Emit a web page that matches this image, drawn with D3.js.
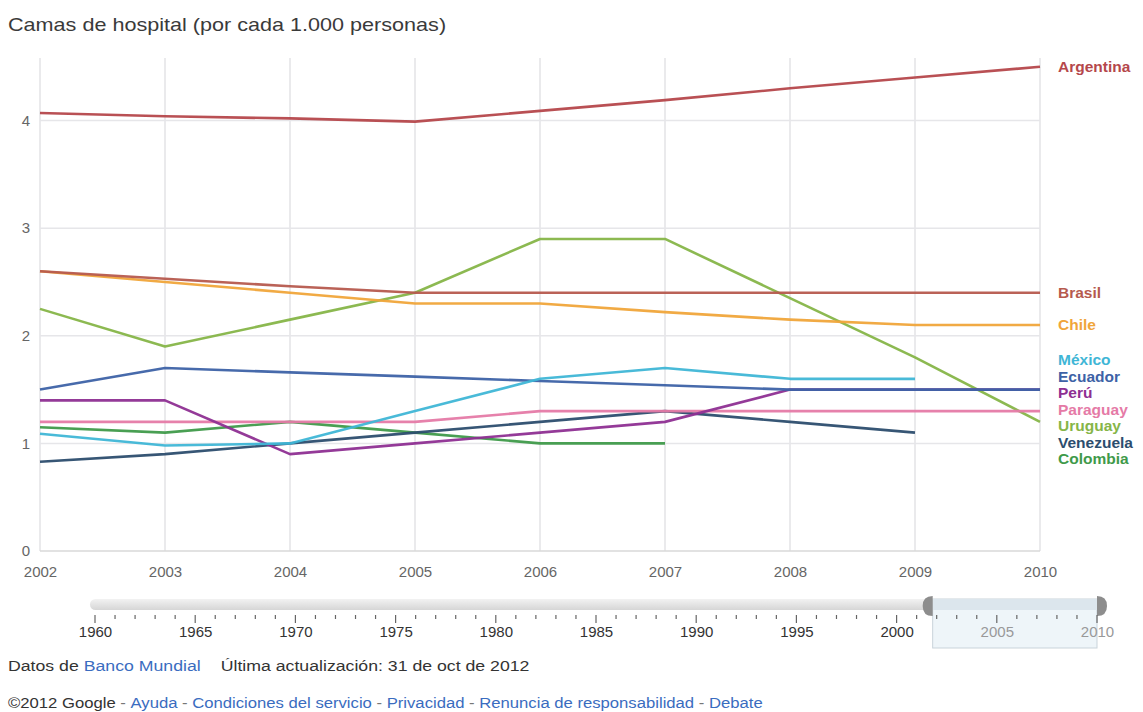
<!DOCTYPE html>
<html><head><meta charset="utf-8">
<script src="https://cdn.jsdelivr.net/npm/d3@7"></script>
<style>
body{margin:0;background:#fff;font-family:Arial,"Liberation Sans",sans-serif;}
svg{display:block}
</style></head><body>
<svg id="c" width="1143" height="712"></svg>
<script>
const years = [2002,2003,2004,2005,2006,2007,2008,2009,2010];
const countries = ["Argentina","Brasil","Chile","México","Ecuador","Perú","Paraguay","Uruguay","Venezuela","Colombia"];
const colors = ["#b5474b","#b65a4e","#f0a53a","#3fb6d6","#3d62a6","#8e2f92","#e57aa6","#86b548","#2c4d6e","#3f9a4a"];
const argentina = [4.07,4.04,4.02,3.99,4.09,4.19,4.3,4.4,4.5];
const brasil    = [2.6,2.53,2.46,2.4,2.4,2.4,2.4,2.4,2.4];
const chile     = [2.6,2.5,2.4,2.3,2.3,2.22,2.15,2.1,2.1];
const mexico    = [1.09,0.98,1.0,1.3,1.6,1.7,1.6,1.6,null];
const ecuador   = [1.5,1.7,1.66,1.62,1.58,1.54,1.5,1.5,1.5];
const peru      = [1.4,1.4,0.9,1.0,1.1,1.2,1.5,1.5,1.5];
const paraguay  = [1.2,1.2,1.2,1.2,1.3,1.3,1.3,1.3,1.3];
const uruguay   = [2.25,1.9,2.15,2.4,2.9,2.9,2.35,1.8,1.2];
const venezuela = [0.83,0.9,1.0,1.1,1.2,1.3,1.2,1.1,null];
const colombia  = [1.15,1.1,1.2,1.1,1.0,1.0,null,null,null];
const seriesValues = [argentina,brasil,chile,mexico,ecuador,peru,paraguay,uruguay,venezuela,colombia];
const yTicks = [0,1,2,3,4];
const timelineTicks = [1960,1965,1970,1975,1980,1985,1990,1995,2000,2005,2010];
const title = "Camas de hospital (por cada 1.000 personas)";
const FF = "Arial,'Liberation Sans',sans-serif";

const svg = d3.select("#c");
const x = d3.scaleLinear().domain([2002,2010]).range([40,1040]);
const y = d3.scaleLinear().domain([0,4.6]).range([551,56]);

svg.append("text").attr("transform","translate(8,31) scale(1.2,1)").attr("font-size",18).attr("fill","#3a3a3a").text(title);

// grid
const g = svg.append("g");
g.selectAll(".vg").data(years).join("line")
  .attr("x1",d=>x(d)).attr("x2",d=>x(d)).attr("y1",58).attr("y2",551)
  .attr("stroke","#e3e3e6").attr("stroke-width",1.5);
g.selectAll(".hg").data(yTicks).join("line")
  .attr("x1",40).attr("x2",1040).attr("y1",d=>y(d)).attr("y2",d=>y(d))
  .attr("stroke",d=>d===0?"#d8d8d8":"#e6e6e9").attr("stroke-width",1.5);

// axes
const xAxis = d3.axisBottom(x).tickValues(years).tickFormat(d3.format("d")).tickSize(0).tickPadding(13);
const xa = svg.append("g").attr("transform","translate(0,553)").call(xAxis);
xa.select(".domain").remove();
xa.selectAll("text").attr("font-size",15).attr("fill","#666").attr("font-family",FF);
const yAxis = d3.axisLeft(y).tickValues(yTicks).tickFormat(d3.format("d")).tickSize(0).tickPadding(9);
const ya = svg.append("g").attr("transform","translate(39,0)").call(yAxis);
ya.select(".domain").remove();
ya.selectAll("text").attr("font-size",15).attr("fill","#666").attr("font-family",FF);

// lines
const line = d3.line().defined(d=>d.v!=null).x(d=>x(d.yr)).y(d=>y(d.v));
const data = countries.map((c,i)=>({name:c,color:colors[i],pts:years.map((yr,j)=>({yr,v:seriesValues[i][j]}))}));
svg.append("g").selectAll("path").data(data.slice().reverse()).join("path")
  .attr("d",d=>line(d.pts)).attr("fill","none").attr("stroke",d=>d.color)
  .attr("stroke-width",2.6).attr("stroke-linejoin","round").attr("opacity",0.95);

// labels with collision avoidance
const labs = data.map(d=>{const last=d.pts.filter(p=>p.v!=null).pop();return {name:d.name,color:d.color,v:last.v,ty:y(last.v)};});
labs.sort((a,b)=>b.v-a.v);
const sp=16.5;
let groups = labs.map(l=>({items:[l],c:l.ty}));
let changed=true;
function gTop(gr){return gr.c-(gr.items.length-1)*sp/2;}
function gBot(gr){return gr.c+(gr.items.length-1)*sp/2;}
while(changed){
  changed=false;
  for(let i=0;i<groups.length-1;i++){
    if(gTop(groups[i+1]) - gBot(groups[i]) < sp){
      const items = groups[i].items.concat(groups[i+1].items);
      const c = d3.mean(items,d=>d.ty);
      groups.splice(i,2,{items,c});
      changed=true;break;
    }
  }
}
groups.forEach(gr=>gr.items.forEach((it,k)=>it.ly=gTop(gr)+k*sp));
svg.append("g").selectAll("text").data(labs).join("text")
  .attr("x",1058).attr("y",d=>d.ly+5).attr("font-size",15.5).attr("font-weight","bold")
  .attr("fill",d=>d.color).text(d=>d.name);

// timeline slider
const t = d3.scaleLinear().domain([1960,2010]).range([95,1097]);
const selStart = 2001.8;
const defs = svg.append("defs");
const grad = defs.append("linearGradient").attr("id","tr").attr("x1",0).attr("x2",0).attr("y1",0).attr("y2",1);
grad.append("stop").attr("offset",0).attr("stop-color","#f2f2f2");
grad.append("stop").attr("offset",1).attr("stop-color","#d6d6d6");
svg.append("rect").attr("x",90).attr("y",599).attr("width",1015).attr("height",11).attr("rx",5.5).attr("fill","url(#tr)");
svg.append("rect").attr("x",t(selStart)).attr("y",599).attr("width",t(2010)-t(selStart)).attr("height",49)
  .attr("fill","#eef5f9").attr("stroke","#c9d3da").attr("stroke-width",1);
svg.append("rect").attr("x",t(selStart)).attr("y",599).attr("width",t(2010)-t(selStart)).attr("height",11).attr("fill","#dce6ed");
[selStart,2010].forEach((yr,i)=>{
  svg.append("path").attr("d",i===0?
     `M${t(yr)},596 q-10,0 -10,10 q0,10 10,10 z`:`M${t(yr)},596 q10,0 10,10 q0,10 -10,10 z`)
    .attr("fill","#8d8d8d");
});
const minor = d3.range(1960,2011);
svg.append("g").selectAll("line").data(minor).join("line")
  .attr("x1",d=>t(d)).attr("x2",d=>t(d)).attr("y1",615).attr("y2",d=>d%5===0?623:619)
  .attr("stroke","#666").attr("stroke-width",1.2);
const ta = d3.axisBottom(t).tickValues(timelineTicks).tickFormat(d3.format("d")).tickSize(0).tickPadding(0);
const tg = svg.append("g").attr("transform","translate(0,626)").call(ta);
tg.select(".domain").remove();
tg.selectAll("text").attr("font-size",15).attr("fill",d=>d>2002?"#999":"#333").attr("dy","0.71em")
  .attr("font-family",FF);

// footer
const f1 = svg.append("text").attr("transform","translate(8,671) scale(1.18,1)").attr("font-size",15).attr("fill","#333");
f1.append("tspan").text("Datos de ");
f1.append("tspan").attr("fill","#3a6cc0").text("Banco Mundial");
f1.append("tspan").attr("dx",17).text("Última actualización: 31 de oct de 2012");
const f2 = svg.append("text").attr("transform","translate(8,708) scale(1.15,1)").attr("font-size",14.5).attr("fill","#333");
const parts = ["Ayuda","Condiciones del servicio","Privacidad","Renuncia de responsabilidad","Debate"];
f2.append("tspan").text("©2012 Google");
parts.forEach(p=>{f2.append("tspan").attr("fill","#777").text(" - ");f2.append("tspan").attr("fill","#3a6cc0").text(p);});
</script>
</body></html>
